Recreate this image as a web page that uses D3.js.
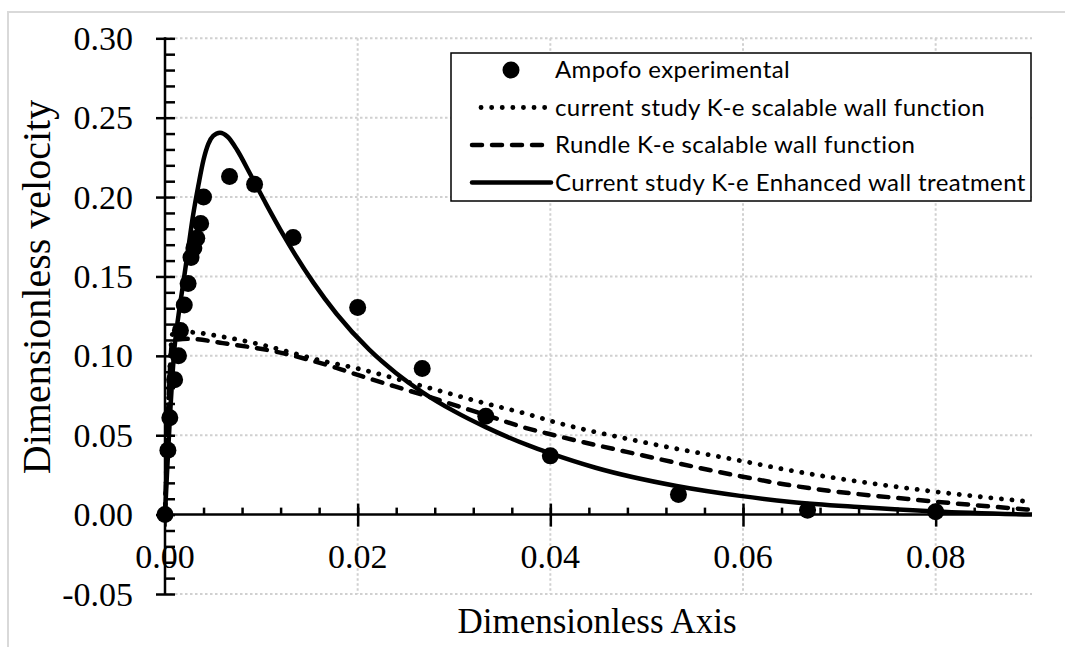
<!DOCTYPE html>
<html>
<head>
<meta charset="utf-8">
<script src="https://cdn.jsdelivr.net/npm/d3@7"></script>
<style>
  body { margin: 0; background: #fff; }
  svg { display: block; }
</style>
</head>
<body>
<div id="chart"></div>
<script>
// data
var exp_x = [0, 0.0003, 0.0005, 0.001, 0.0014, 0.0016, 0.002, 0.0024, 0.0027, 0.003, 0.0033, 0.0037, 0.004,
             0.0067, 0.0093, 0.0133, 0.02, 0.0267, 0.0333, 0.04, 0.0533, 0.0667, 0.08];
var exp_y = [0, 0.0405, 0.061, 0.085, 0.100, 0.116, 0.132, 0.1456, 0.162, 0.168, 0.174, 0.1834, 0.200,
             0.213, 0.208, 0.1745, 0.1305, 0.092, 0.062, 0.037, 0.0126, 0.0028, 0.0018];

var dotted_x = [0, 0.0008, 0.0022, 0.006, 0.01, 0.0162, 0.02, 0.0267, 0.0333, 0.0378, 0.0398, 0.0492, 0.0597, 0.0644, 0.0796, 0.09];
var dotted_y = [0, 0.114, 0.115, 0.112, 0.107, 0.097, 0.092, 0.081, 0.070, 0.063, 0.0594, 0.0462, 0.034, 0.0284, 0.0147, 0.008];

var dashed_x = [0, 0.0008, 0.0026, 0.006, 0.0112, 0.0178, 0.02, 0.0267, 0.0333, 0.0378, 0.0398, 0.0492, 0.0597, 0.0644, 0.0796, 0.09];
var dashed_y = [0, 0.110, 0.1107, 0.108, 0.103, 0.0924, 0.088, 0.0755, 0.0627, 0.054, 0.0509, 0.0378, 0.0242, 0.019, 0.0084, 0.003];

var solid_x = [0, 0.0002, 0.0005, 0.001, 0.0014, 0.0019, 0.0024, 0.0029, 0.0035, 0.004, 0.0045, 0.005, 0.0057, 0.0065, 0.0075,
               0.0088, 0.0105, 0.0123, 0.0133, 0.0154, 0.0178, 0.0212, 0.024, 0.0267, 0.03, 0.0333, 0.0378, 0.0398,
               0.0447, 0.0531, 0.0597, 0.065, 0.072, 0.08, 0.09];
var solid_y = [0, 0.025, 0.06, 0.106, 0.1255, 0.146, 0.167, 0.188, 0.2085, 0.2235, 0.2335, 0.2385, 0.2405, 0.238, 0.2295,
               0.215, 0.1956, 0.176, 0.1658, 0.1461, 0.1265, 0.1039, 0.0891, 0.0772, 0.0652, 0.0551, 0.0434, 0.039,
               0.0295, 0.018, 0.0118, 0.008, 0.0048, 0.002, 0.0];

var x_ticks = [0, 0.02, 0.04, 0.06, 0.08];
var y_ticks = [-0.05, 0, 0.05, 0.10, 0.15, 0.20, 0.25, 0.30];

var legend_names = ['Ampofo experimental',
                    'current study K-e scalable wall function',
                    'Rundle K-e scalable wall function',
                    'Current study K-e Enhanced wall treatment'];

var width = 1065;
var height = 647;

var x = d3.scaleLinear().domain([0, 0.09]).range([165, 1032]);
var y = d3.scaleLinear().domain([-0.05, 0.30]).range([594, 38.3]);

var svg = d3.select('#chart')
  .append('svg')
    .attr('width', width)
    .attr('height', height);

// outer frame
svg.append('rect')
    .attr('x', 8).attr('y', 12)
    .attr('width', 1070).attr('height', 700)
    .attr('fill', 'none')
    .attr('stroke', '#d9d9d9')
    .attr('stroke-width', 2);

var serif = '"Liberation Serif", "Times New Roman", serif';
var fmt = function(d) { return d3.format('.2f')(d).replace('\u2212', '-'); };

// gridlines
var grid_y = y_ticks.filter(function(d) { return d != 0; });
svg.append('g').selectAll('line')
    .data(grid_y)
  .enter()
    .append('line')
    .attr('x1', x(0)).attr('x2', x(0.09))
    .attr('y1', function(d) { return y(d); })
    .attr('y2', function(d) { return y(d); })
    .attr('stroke', '#d0d0d0')
    .attr('stroke-width', 2)
    .attr('stroke-dasharray', '2.5 2.5');

svg.append('g').selectAll('line')
    .data(x_ticks.filter(function(d) { return d != 0; }))
  .enter()
    .append('line')
    .attr('x1', function(d) { return x(d); })
    .attr('x2', function(d) { return x(d); })
    .attr('y1', y(0.30)).attr('y2', y(-0.05))
    .attr('stroke', '#d0d0d0')
    .attr('stroke-width', 2)
    .attr('stroke-dasharray', '2.5 2.5');

// tick labels (under the axis lines, like the original)
svg.append('g').selectAll('text')
    .data(y_ticks)
  .enter()
    .append('text')
    .attr('x', 133)
    .attr('y', function(d) { return y(d); })
    .attr('dy', '0.34em')
    .attr('text-anchor', 'end')
    .attr('font-family', serif)
    .attr('font-size', 34)
    .text(fmt);

svg.append('g').selectAll('text')
    .data(x_ticks)
  .enter()
    .append('text')
    .attr('x', function(d) { return x(d); })
    .attr('y', 568)
    .attr('text-anchor', 'middle')
    .attr('font-family', serif)
    .attr('font-size', 34)
    .text(fmt);

// axes
var y_minor = d3.range(-5, 31).map(function(i) { return i / 100; });
var x_minor = d3.range(0, 23).map(function(i) { return i * 0.004; });

function styleAxis(g) {
    g.select('.domain').remove();
    g.selectAll('line').attr('stroke', '#000').attr('stroke-width', 2.5);
    g.selectAll('text').remove();
}

svg.append('g')
    .attr('transform', 'translate(' + x(0) + ',0)')
    .call(d3.axisRight(y).tickValues(y_minor).tickSize(10))
    .call(styleAxis);

svg.append('g')
    .attr('transform', 'translate(' + x(0) + ',0)')
    .call(d3.axisLeft(y).tickValues(y_ticks).tickSize(9))
    .call(styleAxis);

svg.append('g')
    .attr('transform', 'translate(0,' + y(0) + ')')
    .call(d3.axisTop(x).tickValues(x_minor).tickSize(7))
    .call(styleAxis);

svg.append('g')
    .attr('transform', 'translate(0,' + y(0) + ')')
    .call(d3.axisTop(x).tickValues(x_ticks).tickSize(11))
    .call(styleAxis);

svg.append('g')
    .attr('transform', 'translate(0,' + y(0) + ')')
    .call(d3.axisBottom(x).tickValues(x_ticks).tickSize(12))
    .call(styleAxis);

svg.append('line')
    .attr('x1', x(0)).attr('x2', x(0))
    .attr('y1', y(0.30) - 1).attr('y2', y(-0.05) + 1)
    .attr('stroke', '#000').attr('stroke-width', 2.5);

svg.append('line')
    .attr('x1', x(0)).attr('x2', x(0.09))
    .attr('y1', y(0)).attr('y2', y(0))
    .attr('stroke', '#000').attr('stroke-width', 2.5);

// axis titles
svg.append('text')
    .attr('x', 597)
    .attr('y', 633)
    .attr('text-anchor', 'middle')
    .attr('font-family', serif)
    .attr('font-size', 35)
    .text('Dimensionless Axis');

svg.append('text')
    .attr('transform', 'translate(50,287) rotate(-90)')
    .attr('text-anchor', 'middle')
    .attr('font-family', serif)
    .attr('font-size', 40)
    .text('Dimensionless velocity');

// series
function pairs(xs, ys) {
    return xs.map(function(d, i) { return [d, ys[i]]; });
}

var line = d3.line()
    .x(function(d) { return x(d[0]); })
    .y(function(d) { return y(d[1]); })
    .curve(d3.curveMonotoneX);

var styles = [
    null,
    {dash: '0.1 10.5', width: 4.8, cap: 'round'},
    {dash: '10 10', width: 4.5, cap: 'round'},
    {dash: null, width: 4.5, cap: 'round'}
];

svg.append('path')
    .datum(pairs(dotted_x, dotted_y))
    .attr('d', line)
    .attr('fill', 'none').attr('stroke', '#000')
    .attr('stroke-width', styles[1].width)
    .attr('stroke-linecap', styles[1].cap)
    .attr('stroke-dasharray', styles[1].dash);

svg.append('path')
    .datum(pairs(dashed_x, dashed_y))
    .attr('d', line)
    .attr('fill', 'none').attr('stroke', '#000')
    .attr('stroke-width', styles[2].width)
    .attr('stroke-linecap', styles[2].cap)
    .attr('stroke-dasharray', styles[2].dash);

svg.append('path')
    .datum(pairs(solid_x, solid_y))
    .attr('d', line)
    .attr('fill', 'none').attr('stroke', '#000')
    .attr('stroke-width', styles[3].width)
    .attr('stroke-linejoin', 'round');

svg.append('g').selectAll('circle')
    .data(pairs(exp_x, exp_y))
  .enter()
    .append('circle')
    .attr('cx', function(d) { return x(d[0]); })
    .attr('cy', function(d) { return y(d[1]); })
    .attr('r', 8.5)
    .attr('fill', '#000');

// legend
var leg = svg.append('g');
leg.append('rect')
    .attr('x', 451).attr('y', 53)
    .attr('width', 580).attr('height', 148)
    .attr('fill', '#fff')
    .attr('stroke', '#000')
    .attr('stroke-width', 1.5);

var row_y = [70, 107.5, 145, 182.5];

leg.append('circle')
    .attr('cx', 511).attr('cy', row_y[0])
    .attr('r', 8.5).attr('fill', '#000');

for (var i = 1; i < 4; i++) {
    leg.append('line')
        .attr('x1', i == 1 ? 481 : 472).attr('x2', 551)
        .attr('y1', row_y[i]).attr('y2', row_y[i])
        .attr('stroke', '#000')
        .attr('stroke-width', styles[i].width)
        .attr('stroke-linecap', styles[i].cap)
        .attr('stroke-dasharray', styles[i].dash);
}

leg.selectAll('text')
    .data(legend_names)
  .enter()
    .append('text')
    .attr('x', 555)
    .attr('y', function(d, i) { return row_y[i]; })
    .attr('dy', '0.35em')
    .attr('font-family', 'Lato, "Open Sans", sans-serif')
    .attr('font-size', 24)
    .attr('letter-spacing', 0.4)
    .text(function(d) { return d; });
</script>
</body>
</html>
